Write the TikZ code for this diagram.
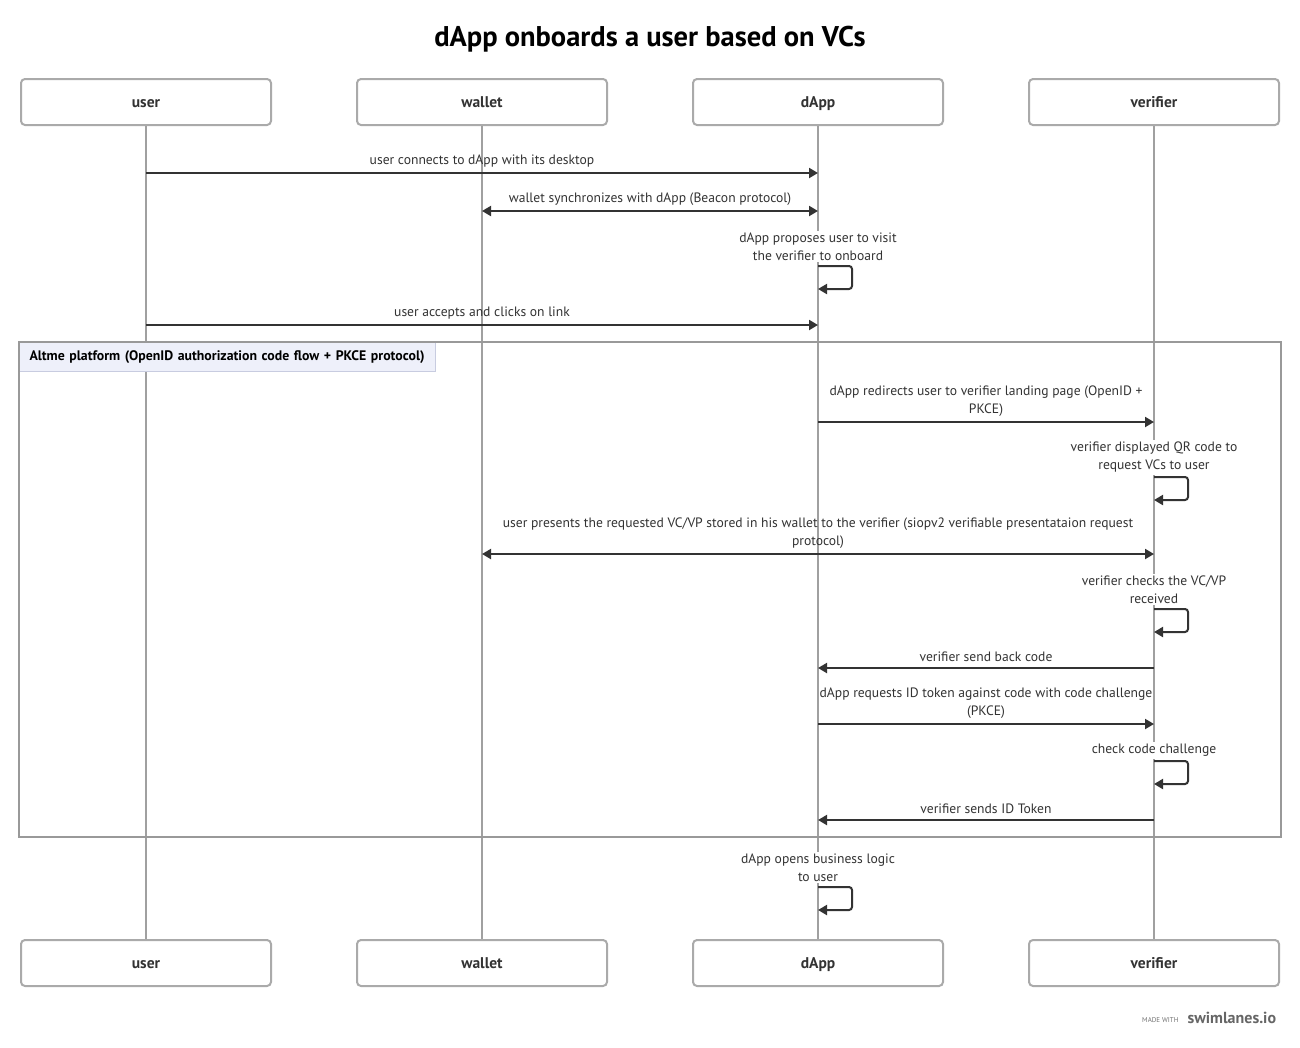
\documentclass[tikz,border=0pt]{standalone}
\usepackage{fontspec}
\setmainfont{PT Sans}
\usetikzlibrary{arrows.meta}
\definecolor{ink}{HTML}{333333}
\definecolor{lifegray}{HTML}{A0A0A0}
\definecolor{boxgray}{HTML}{AAAAAA}
\definecolor{grpfill}{HTML}{EEF0FA}
\definecolor{grpline}{HTML}{C8CCE0}
\definecolor{grpbox}{HTML}{999999}
\tikzset{
 actor/.style={draw=boxgray, line width=2pt, rounded corners=4pt, minimum width=250pt, minimum height=46pt, text height=12.5pt, text depth=1.5pt, font=\fontsize{15.5}{18}\selectfont\bfseries, text=ink, fill=white},
 life/.style={draw=lifegray, line width=2pt},
 tipx/.tip={Triangle[length=9pt,width=10pt]},
 msg/.style={draw=ink, line width=2pt, -tipx},
 msgboth/.style={draw=ink, line width=2pt, tipx-tipx},
 selfmsg/.style={draw=ink, line width=2pt, -tipx, rounded corners=3pt},
 lbl/.style={font=\fontsize{13.6}{18}\selectfont, text=ink, align=center, inner sep=1pt},
 selflbl/.style={lbl, fill=white, inner sep=2pt},
}
\begin{document}
\begin{tikzpicture}[x=1pt,y=-1pt]
\useasboundingbox[fill=white] (0,0) rectangle (1300,1047);
% title
\node[font=\fontsize{28.5}{32}\selectfont\bfseries, text=black] (title) at (650,39) {dApp onboards a user based on VCs};
% participants
\node[actor] (uT) at (146,102) {user};
\node[actor] (wT) at (482,102) {wallet};
\node[actor] (dT) at (818,102) {dApp};
\node[actor] (vT) at (1154,102) {verifier};
\node[actor] (uB) at (146,963) {user};
\node[actor] (wB) at (482,963) {wallet};
\node[actor] (dB) at (818,963) {dApp};
\node[actor] (vB) at (1154,963) {verifier};
% lifelines
\draw[life] (uT.south) -- (uB.north);
\draw[life] (wT.south) -- (wB.north);
\draw[life] (dT.south) -- (dB.north);
\draw[life] (vT.south) -- (vB.north);
% group
\node[draw=grpline, fill=grpfill, line width=1pt, anchor=north west, minimum width=416pt, minimum height=29pt, inner xsep=10pt, text width=396pt, align=left, font=\fontsize{13.8}{16}\selectfont\bfseries, text=black] (grp) at (19,342) {Altme platform (OpenID authorization code flow + PKCE protocol)};
\draw[draw=grpbox, line width=1.6pt] (19,342) rectangle (1281,837);
% coordinates on lifelines
\coordinate (u1) at (146,173); \coordinate (d1) at (818,173);
\coordinate (w2) at (482,211); \coordinate (d2) at (818,211);
\coordinate (d3a) at (818,266); \coordinate (d3b) at (818,289);
\coordinate (u4) at (146,325); \coordinate (d4) at (818,325);
\coordinate (d5) at (818,422); \coordinate (v5) at (1154,422);
\coordinate (v6a) at (1154,477); \coordinate (v6b) at (1154,500);
\coordinate (w7) at (482,554); \coordinate (v7) at (1154,554);
\coordinate (v8a) at (1154,609); \coordinate (v8b) at (1154,632);
\coordinate (v9) at (1154,668); \coordinate (d9) at (818,668);
\coordinate (d10) at (818,724); \coordinate (v10) at (1154,724);
\coordinate (v11a) at (1154,761); \coordinate (v11b) at (1154,784);
\coordinate (v12) at (1154,820); \coordinate (d12) at (818,820);
\coordinate (d13a) at (818,887); \coordinate (d13b) at (818,910);
% messages
\node[lbl] (l1) at (482,161.5) {user connects to dApp with its desktop};
\draw[msg] (u1) -- (d1);
\node[lbl] (l2) at (650,199.5) {wallet synchronizes with dApp (Beacon protocol)};
\draw[msgboth] (w2) -- (d2);
\node[selflbl] (l3) at (818,246.5) {dApp proposes user to visit\\the verifier to onboard};
\draw[selfmsg] (d3a) -- ++(34,0) |- (d3b);
\node[lbl] (l4) at (482,313.5) {user accepts and clicks on link};
\draw[msg] (u4) -- (d4);
\node[lbl] (l5) at (986,401.5) {dApp redirects user to verifier landing page (OpenID +\\PKCE)};
\draw[msg] (d5) -- (v5);
\node[selflbl] (l6) at (1154,457.5) {verifier displayed QR code to\\request VCs to user};
\draw[selfmsg] (v6a) -- ++(34,0) |- (v6b);
\node[lbl] (l7) at (818,533.5) {user presents the requested VC/VP stored in his wallet to the verifier (siopv2 verifiable presentataion request\\protocol)};
\draw[msgboth] (w7) -- (v7);
\node[selflbl] (l8) at (1154,589.5) {verifier checks the VC/VP\\received};
\draw[selfmsg] (v8a) -- ++(34,0) |- (v8b);
\node[lbl] (l9) at (986,656.5) {verifier send back code};
\draw[msg] (v9) -- (d9);
\node[lbl] (l10) at (986,703.5) {dApp requests ID token against code with code challenge\\(PKCE)};
\draw[msg] (d10) -- (v10);
\node[selflbl] (l11) at (1154,750.5) {check code challenge};
\draw[selfmsg] (v11a) -- ++(34,0) |- (v11b);
\node[lbl] (l12) at (986,808.5) {verifier sends ID Token};
\draw[msg] (v12) -- (d12);
\node[selflbl] (l13) at (818,867.5) {dApp opens business logic\\to user};
\draw[selfmsg] (d13a) -- ++(34,0) |- (d13b);
% watermark
\node[font=\fontsize{7}{8}\selectfont, text=black!55, anchor=east] (wm1) at (1182,1020) {MADE WITH};
\node[font=\fontsize{16}{18}\selectfont\bfseries, text=black!60, anchor=west] (wm2) at (1184,1018) {swimlanes.io};
\end{tikzpicture}
\end{document}
